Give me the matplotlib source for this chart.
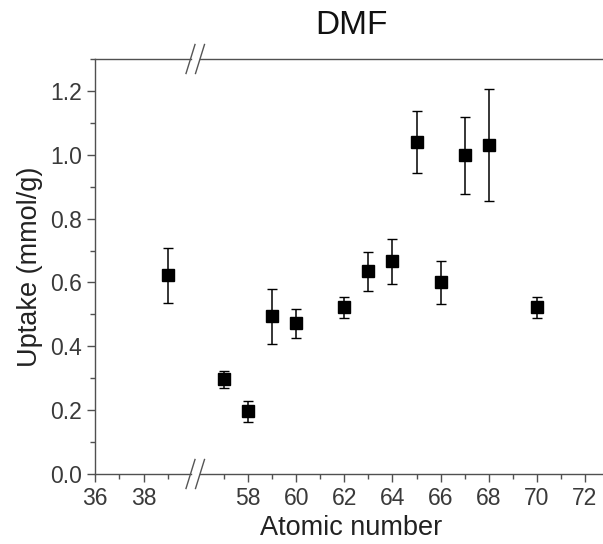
import numpy as np
import matplotlib
matplotlib.use('Agg')
import matplotlib.pyplot as plt
from matplotlib.lines import Line2D
from matplotlib.ticker import MultipleLocator, FixedLocator

plt.rcParams['font.family'] = ['Liberation Sans', 'DejaVu Sans']

# atomic number, uptake (mmol/g) and error
atomic_number = np.array([39, 57, 58, 59, 60, 62, 63, 64, 65, 66, 67, 68, 70])
uptake = np.array([0.622, 0.297, 0.196, 0.494, 0.472, 0.522, 0.635, 0.666,
                   1.041, 0.601, 0.998, 1.031, 0.522])
uptake_err = np.array([0.086, 0.027, 0.033, 0.086, 0.046, 0.033, 0.061, 0.070,
                       0.097, 0.067, 0.120, 0.175, 0.033])

left_ticks = [36, 38]
right_ticks = [58, 60, 62, 64, 66, 68, 70, 72]

W, H = 603, 544
fig = plt.figure(figsize=(W / 100, H / 100), dpi=100)

bottom = (H - 474) / H
height = (474 - 59) / H
ax1 = fig.add_axes([95 / W, bottom, (191 - 95) / W, height])
ax2 = fig.add_axes([200 / W, bottom, (603 - 200) / W, height])

spine_col = '#505050'
label_col = '#3a3a3a'

for ax in (ax1, ax2):
    ax.errorbar(atomic_number, uptake, yerr=uptake_err, fmt='s', color='black',
                markersize=8.5, ecolor='black', elinewidth=1.1, capsize=3.6,
                capthick=1.0, clip_on=False, zorder=3)
    ax.set_ylim(0, 1.3)
    ax.spines['right'].set_visible(False)
    for s in ('top', 'bottom', 'left'):
        ax.spines[s].set_color(spine_col)
        ax.spines[s].set_linewidth(1.0)
    ax.tick_params(axis='both', which='major', length=6, width=1.0,
                   color=spine_col, labelsize=16.5, labelcolor=label_col, pad=3.5)
    ax.tick_params(axis='both', which='minor', length=3.5, width=1.0,
                   color=spine_col)
    ax.tick_params(top=False, which='both')

ax1.set_xlim(36, 39.95)
ax1.xaxis.set_major_locator(FixedLocator(left_ticks))
ax1.xaxis.set_minor_locator(FixedLocator([37, 39]))
ax1.yaxis.set_major_locator(MultipleLocator(0.2))
ax1.yaxis.set_minor_locator(MultipleLocator(0.1))
ax1.yaxis.set_major_formatter(plt.FormatStrFormatter('%.1f'))
ax1.set_ylabel('Uptake (mmol/g)', fontsize=19.5, color='#222222', labelpad=5)

ax2.set_xlim(56, 72.75)
ax2.xaxis.set_major_locator(FixedLocator(right_ticks))
ax2.xaxis.set_minor_locator(FixedLocator(np.arange(57, 72, 2)))
ax2.spines['left'].set_visible(False)
ax2.tick_params(axis='y', which='both', left=False, labelleft=False)

fig.text(351 / W, 1 - 528 / H, 'Atomic number', ha='center', va='center',
         fontsize=19.5, color='#222222')
fig.text(351 / W, 1 - 25 / H, 'DMF', ha='center', va='center',
         fontsize=24, color='#111111')

# break marks on top and bottom spines
for y0 in (59, 474):
    for x0 in (190.5, 200):
        xs = [(x0 - 4.5) / W, (x0 + 4.5) / W]
        ys = [1 - (y0 + 14.5) / H, 1 - (y0 - 14.5) / H]
        fig.add_artist(Line2D(xs, ys, color='#555555', lw=1.0))

fig.savefig('out.png', dpi=100)
